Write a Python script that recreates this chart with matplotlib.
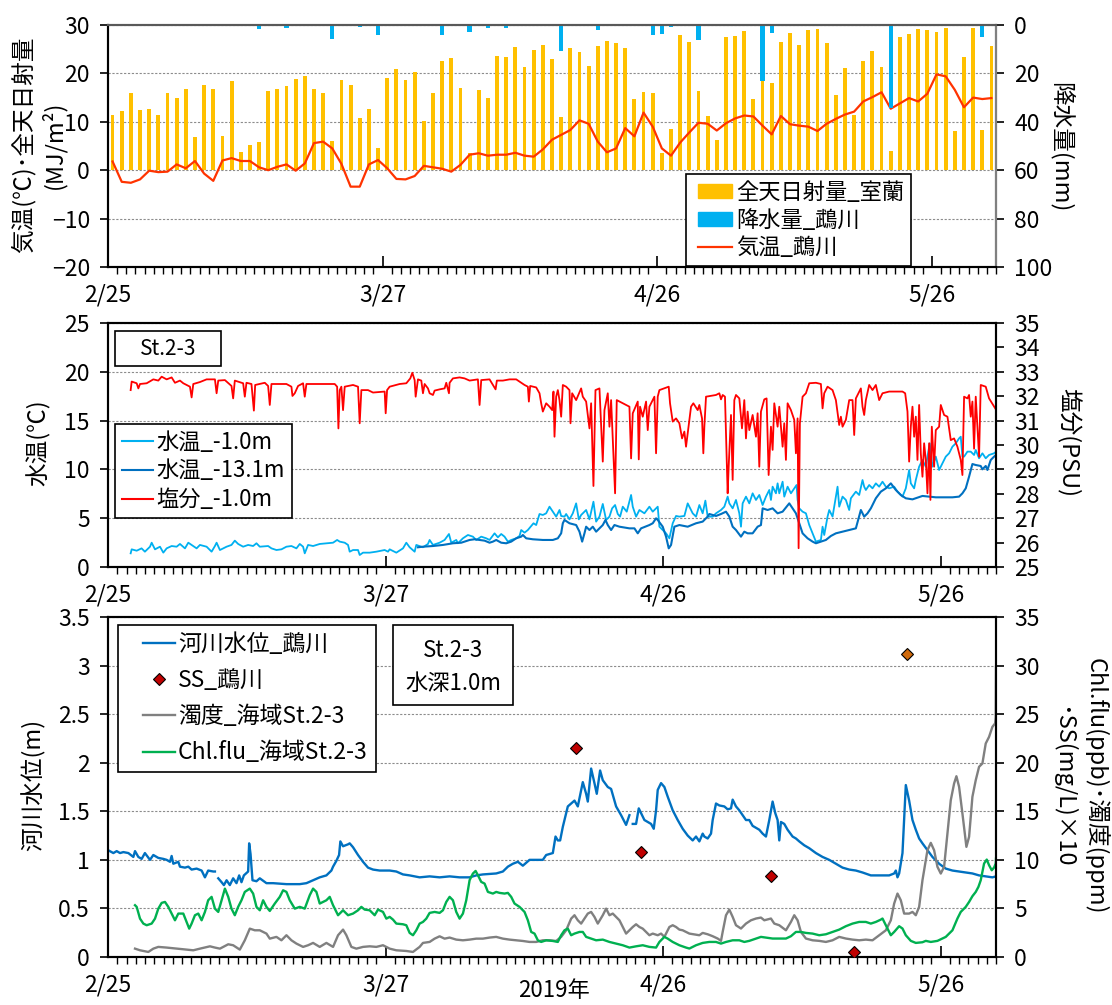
import numpy as np
import matplotlib

matplotlib.use("Agg")

import matplotlib.pyplot as plt  # noqa: E402
from matplotlib.legend_handler import HandlerLine2D, HandlerPatch  # noqa: E402
from matplotlib.lines import Line2D  # noqa: E402
from matplotlib.patches import Patch, Rectangle  # noqa: E402
from matplotlib.ticker import FixedLocator, MultipleLocator  # noqa: E402

plt.rcParams["font.family"] = ["Noto Sans CJK JP", "DejaVu Sans"]

FIG_W, FIG_H = 1112, 1005
TICK_FS = 16.5
LABEL_FS = 17

# ---------------------------------------------------------------- data
# x = days since 2/25 00:00
DATE_TICKS = [0, 30, 60, 90]
DATE_LABELS = ["2/25", "3/27", "4/26", "5/26"]

# daily values, 2/25 .. 6/1 (97 days)
solar_mj = [
    11.4, 12.2, 16.0, 12.5, 12.7, 11.5, 15.9, 14.9, 16.7, 6.8,
    17.6, 16.7, 7.1, 18.5, 3.8, 5.2, 5.9, 16.3, 16.8, 17.4,
    18.8, 19.4, 16.7, 16.0, 6.0, 18.7, 17.6, 10.8, 12.6, 4.6,
    19.0, 20.9, 18.7, 20.3, 10.1, 16.0, 22.5, 23.1, 17.0, 3.5,
    16.6, 15.0, 23.5, 23.3, 25.4, 21.3, 24.9, 25.8, 23.0, 10.9,
    25.3, 24.4, 21.6, 25.6, 26.6, 26.2, 25.3, 14.7, 16.2, 16.0,
    3.6, 8.5, 28.0, 26.5, 16.4, 11.2, 6.3, 27.5, 27.7, 28.7,
    14.7, 18.7, 18.0, 26.4, 28.4, 25.8, 28.9, 29.1, 26.3, 15.6,
    21.1, 11.4, 22.5, 24.6, 21.3, 3.9, 27.6, 28.2, 29.1, 29.0,
    28.6, 29.3, 8.0, 23.4, 29.4, 8.3, 25.6,
]
air_temp = [
    1.8, -2.4, -2.6, -1.9, -0.1, -0.4, -0.3, 1.2, 0.4, 1.9,
    -0.7, -2.2, 2.0, 2.5, 1.9, 1.9, 0.6, 0.0, 0.7, 1.2,
    -0.1, 1.4, 5.6, 5.9, 4.5, 1.3, -3.4, -3.4, 1.2, 2.1,
    0.4, -1.8, -1.9, -1.2, 0.9, 0.6, 0.3, -0.3, 1.1, 3.2,
    3.5, 3.0, 3.2, 3.2, 3.6, 3.0, 2.8, 4.3, 6.3, 7.3,
    8.3, 10.3, 9.6, 5.9, 3.7, 4.5, 8.7, 7.0, 11.9, 9.0,
    4.5, 3.0, 5.7, 7.8, 9.8, 9.6, 8.2, 9.7, 10.7, 11.3,
    11.1, 9.2, 7.4, 11.2, 9.5, 9.2, 9.0, 8.1, 9.6, 10.6,
    11.5, 12.1, 14.2, 15.1, 16.1, 12.7, 13.8, 14.9, 14.2, 15.8,
    19.8, 19.4, 16.6, 13.0, 15.0, 14.7, 14.9,
]
# rain days only: day index -> mm
rain_mm = {
    16: 1.8, 19: 1.1, 24: 5.6, 27: 0.7, 29: 4.1, 36: 4.1, 39: 2.8,
    41: 1.1, 43: 1.1, 49: 10.8, 53: 2.1, 59: 4.0, 60: 3.6, 61: 0.7,
    64: 6.2, 65: 0.4, 66: 0.4, 71: 23.3, 72: 3.2, 85: 34.4, 95: 5.1,
}

# (day, value) readings of the continuous records
wt_1m = [
    (2.45, 1.40), (2.56, 1.81), (3.10, 1.67), (3.63, 1.91), (3.99, 1.57),
    (4.54, 2.08), (4.72, 2.49), (5.08, 1.81), (5.62, 2.08), (5.98, 1.47),
    (6.34, 1.91), (6.88, 2.15), (7.42, 2.08), (7.78, 2.36), (8.32, 1.91),
    (8.68, 2.49), (9.04, 2.26), (9.58, 1.91), (9.94, 2.26), (10.66, 2.08),
    (11.20, 1.57), (11.56, 2.15), (11.74, 2.49), (12.10, 1.74), (12.82, 2.08),
    (13.35, 2.26), (13.71, 2.70), (14.07, 2.36), (14.61, 2.08), (15.15, 2.26),
    (15.69, 2.15), (16.05, 2.43), (16.41, 2.08), (17.31, 2.15), (17.67, 1.91),
    (18.21, 1.74), (18.75, 1.81), (19.29, 2.08), (19.83, 2.15), (20.37, 1.91),
    (20.73, 2.36), (21.09, 2.08), (21.27, 1.40), (21.63, 2.26), (22.17, 2.15),
    (22.89, 2.36), (23.61, 2.43), (24.33, 2.49), (24.77, 2.77), (25.05, 2.60),
    (25.59, 2.49), (25.95, 2.26), (26.13, 1.57), (26.49, 1.74), (27.03, 1.74),
    (27.21, 1.23), (27.57, 1.47), (28.29, 1.47), (29.01, 1.57), (29.91, 1.74),
    (30.27, 1.57), (30.45, 1.81), (31.17, 1.47), (31.89, 1.91), (32.25, 2.49),
    (32.61, 2.02), (33.15, 1.57), (33.33, 2.26), (34.05, 2.02), (34.59, 2.36),
    (34.77, 2.77), (35.13, 2.26), (35.85, 2.49), (36.39, 2.77), (36.86, 3.38),
    (37.11, 2.49), (37.65, 2.77), (37.83, 2.43), (38.37, 2.94), (38.91, 3.28),
    (39.45, 3.11), (39.81, 2.77), (40.35, 3.11), (40.89, 2.94), (41.25, 2.77),
    (41.79, 3.45), (42.15, 3.04), (42.51, 3.38), (42.87, 3.11), (43.23, 2.60),
    (43.59, 2.77), (44.13, 2.94), (44.49, 3.18), (44.67, 3.79), (45.03, 3.52),
    (45.39, 3.79), (45.75, 4.20), (46.00, 4.48), (46.29, 4.30), (46.65, 5.43),
    (47.01, 5.33), (47.37, 5.50), (47.73, 6.18), (48.09, 5.67), (48.45, 5.16),
    (48.81, 5.84), (48.99, 5.23), (49.35, 5.16), (49.53, 5.43), (49.89, 4.88),
    (50.25, 5.50), (50.61, 6.52), (50.90, 4.88), (51.15, 5.33), (51.69, 5.84),
    (52.05, 4.88), (52.48, 6.69), (52.77, 4.65), (53.13, 5.16), (53.49, 6.46),
    (53.85, 4.82), (54.21, 5.16), (54.50, 6.01), (54.82, 6.35), (55.11, 5.43),
    (55.36, 5.16), (55.65, 6.18), (56.08, 5.67), (56.55, 7.38), (56.73, 6.18),
    (57.09, 5.16), (57.45, 5.84), (57.99, 5.50), (58.53, 6.18), (58.89, 5.67),
    (59.43, 6.18), (59.61, 4.13), (59.97, 3.79), (60.33, 3.45), (60.69, 2.94),
    (61.05, 4.48), (61.41, 5.23), (61.77, 5.16), (62.31, 5.23), (62.67, 6.52),
    (63.21, 5.50), (63.57, 5.16), (63.93, 6.35), (64.29, 5.50), (64.58, 6.80),
    (64.83, 5.16), (65.37, 5.16), (65.73, 5.50), (66.27, 5.84), (66.63, 6.18),
    (66.99, 7.21), (67.17, 6.52), (67.53, 6.01), (67.89, 6.87), (68.25, 5.50),
    (68.43, 4.13), (68.61, 6.52), (68.97, 7.21), (69.33, 6.52), (69.69, 7.55),
    (70.05, 6.87), (70.41, 7.38), (70.77, 6.35), (71.13, 7.21), (71.49, 7.89),
    (71.67, 6.87), (71.85, 8.23), (72.21, 7.55), (72.39, 8.57), (72.57, 7.55),
    (72.93, 8.74), (73.11, 7.21), (73.47, 8.23), (73.83, 7.55), (74.19, 8.06),
    (74.44, 8.40), (74.55, 6.87), (74.73, 6.01), (75.09, 5.67), (75.45, 5.50),
    (75.81, 4.30), (76.17, 3.45), (76.53, 2.60), (77.07, 2.77), (77.25, 4.13),
    (77.43, 3.28), (77.79, 5.16), (77.97, 5.84), (78.33, 5.16), (78.69, 7.21),
    (78.87, 8.23), (79.05, 6.18), (79.41, 7.21), (79.77, 6.87), (80.13, 5.84),
    (80.31, 7.04), (80.85, 7.72), (81.21, 7.38), (81.57, 8.91), (81.75, 8.23),
    (81.93, 7.89), (82.29, 8.40), (82.65, 8.06), (83.01, 8.57), (83.37, 8.23),
    (83.73, 8.74), (84.09, 8.23), (84.45, 8.06), (84.99, 8.23), (85.35, 7.72),
    (85.89, 7.21), (86.25, 8.06), (86.61, 9.94), (86.79, 8.57), (87.15, 8.06),
    (87.33, 8.91), (87.69, 10.28), (88.05, 10.96), (88.41, 10.28), (88.59, 11.31),
    (88.84, 12.67), (89.13, 10.28), (89.49, 11.31), (89.85, 9.94), (90.21, 10.62),
    (90.57, 11.31), (90.93, 11.65), (91.29, 12.33), (91.65, 12.67), (92.01, 13.18),
    (92.19, 13.35), (92.37, 11.31), (92.55, 11.31), (92.91, 11.82), (93.27, 11.82),
    (93.63, 11.48), (93.81, 11.99), (94.17, 11.14), (94.53, 11.65), (94.89, 11.14),
    (95.25, 11.48), (95.79, 11.65), (96.00, 11.82),
]
wt_13m = [
    (33.51, 2.02), (34.05, 2.08), (35.13, 2.15), (36.21, 2.26), (37.29, 2.43),
    (38.19, 2.49), (39.09, 2.77), (39.63, 2.84), (40.17, 2.77), (40.71, 2.70),
    (41.25, 2.49), (41.61, 2.60), (41.97, 2.77), (42.51, 2.49), (43.05, 2.43),
    (43.59, 2.60), (44.13, 2.94), (44.67, 3.11), (44.85, 3.28), (45.21, 2.94),
    (45.93, 2.84), (47.01, 2.77), (48.09, 2.77), (48.63, 2.94), (48.99, 3.45),
    (49.17, 4.48), (49.35, 4.82), (49.89, 4.48), (50.61, 4.30), (50.97, 3.62),
    (51.26, 2.60), (51.51, 3.45), (51.69, 4.13), (52.05, 3.79), (52.41, 4.13),
    (52.77, 3.62), (53.13, 3.96), (53.49, 4.30), (53.78, 4.82), (54.03, 4.30),
    (54.39, 3.79), (54.75, 4.30), (55.29, 4.13), (56.37, 3.96), (56.91, 3.96),
    (57.27, 3.45), (57.63, 3.96), (58.53, 4.30), (58.89, 4.48), (59.25, 4.99),
    (59.43, 4.82), (59.97, 4.13), (60.33, 3.11), (60.62, 1.91), (60.87, 2.26),
    (61.23, 4.13), (61.77, 4.30), (62.67, 4.13), (63.57, 4.48), (64.29, 4.65),
    (64.83, 5.16), (65.01, 5.43), (65.73, 5.23), (66.27, 5.43), (66.81, 5.67),
    (67.17, 5.16), (67.53, 4.13), (67.89, 3.79), (68.43, 3.11), (68.79, 3.62),
    (69.15, 3.45), (69.69, 3.45), (70.23, 4.13), (70.59, 4.30), (70.77, 6.01),
    (71.31, 5.84), (71.85, 6.01), (72.39, 5.50), (72.93, 5.67), (73.65, 6.52),
    (74.01, 6.01), (74.37, 5.50), (74.73, 4.48), (75.09, 3.45), (75.63, 2.94),
    (76.17, 2.60), (76.53, 2.43), (77.07, 2.60), (77.61, 2.77), (78.15, 3.18),
    (78.69, 3.45), (79.41, 3.62), (80.13, 3.79), (80.85, 3.96), (81.39, 5.84),
    (81.75, 5.16), (82.11, 5.50), (82.47, 6.01), (83.01, 7.04), (83.55, 7.72),
    (84.09, 8.06), (84.63, 8.57), (85.17, 7.89), (85.71, 7.38), (86.25, 7.04),
    (86.97, 6.93), (88.05, 7.28), (89.49, 7.14), (91.29, 7.14), (92.01, 7.21),
    (92.37, 7.55), (92.73, 8.06), (93.09, 9.26), (93.45, 10.55), (93.81, 10.45),
    (94.35, 10.35), (94.53, 10.01), (94.89, 10.35), (95.07, 9.94), (95.43, 10.96),
    (95.79, 11.31), (96.00, 11.48),
]
salinity = [
    (2.45, 32.25), (2.56, 32.60), (3.10, 32.53), (3.28, 32.32), (3.46, 32.50),
    (4.18, 32.53), (4.90, 32.69), (5.44, 32.64), (5.80, 32.80), (6.34, 32.69),
    (6.88, 32.77), (7.24, 32.55), (7.78, 32.64), (8.14, 32.53), (8.86, 32.39),
    (9.04, 31.95), (9.22, 32.50), (9.94, 32.58), (10.66, 32.69), (11.56, 32.69),
    (11.74, 32.12), (11.92, 32.64), (12.64, 32.66), (13.35, 32.42), (13.53, 31.91),
    (13.71, 32.64), (14.61, 32.53), (14.79, 31.98), (14.97, 32.55), (15.51, 32.50),
    (15.77, 31.41), (15.91, 32.46), (16.95, 32.55), (17.31, 32.42), (17.49, 31.64),
    (17.67, 32.50), (19.29, 32.50), (19.83, 32.39), (19.94, 32.01), (20.19, 32.12),
    (20.55, 32.42), (21.09, 32.53), (21.27, 31.98), (21.45, 32.50), (23.25, 32.50),
    (24.51, 32.50), (24.77, 32.39), (24.91, 30.68), (25.05, 32.25), (25.23, 32.39),
    (25.41, 31.43), (25.59, 32.39), (26.49, 32.46), (27.03, 32.39), (27.21, 30.89),
    (27.39, 32.25), (28.11, 32.25), (28.65, 32.15), (29.91, 32.19), (30.02, 31.30),
    (30.17, 32.25), (30.45, 32.39), (31.53, 32.50), (32.25, 32.53), (32.68, 32.73),
    (32.90, 32.96), (33.15, 32.66), (33.26, 31.98), (33.51, 32.69), (33.87, 32.64),
    (34.05, 32.12), (34.23, 32.50), (34.59, 32.32), (34.77, 32.12), (35.13, 32.05),
    (35.31, 32.23), (35.85, 32.28), (36.39, 32.32), (36.57, 32.55), (36.86, 32.12),
    (36.93, 32.55), (37.29, 32.73), (38.01, 32.77), (38.55, 32.73), (39.09, 32.64),
    (39.99, 32.69), (40.17, 31.64), (40.35, 32.66), (41.25, 32.69), (41.90, 32.28),
    (42.04, 32.64), (42.69, 32.64), (43.41, 32.69), (44.13, 32.69), (44.67, 32.55),
    (45.03, 32.46), (45.39, 32.39), (45.50, 31.78), (45.64, 32.42), (46.29, 32.36),
    (46.65, 32.12), (46.83, 31.71), (47.01, 31.37), (47.37, 31.71), (47.73, 31.57),
    (48.02, 31.43), (48.16, 32.19), (48.27, 30.34), (48.45, 31.98), (48.63, 32.25),
    (48.81, 31.84), (48.99, 31.16), (49.17, 32.46), (49.53, 32.39), (49.89, 32.25),
    (50.00, 30.89), (50.18, 32.12), (50.61, 31.84), (51.15, 32.32), (51.33, 31.98),
    (51.69, 31.78), (52.05, 30.68), (52.23, 31.71), (52.48, 28.32), (52.70, 32.25),
    (53.13, 32.32), (53.49, 29.32), (53.67, 31.43), (54.03, 32.12), (54.21, 30.75),
    (54.39, 31.84), (54.82, 28.02), (55.00, 31.84), (55.65, 31.71), (56.37, 31.57),
    (56.55, 29.45), (56.73, 31.30), (57.27, 31.78), (57.38, 29.41), (57.52, 31.57),
    (57.81, 31.16), (58.17, 31.78), (58.35, 30.61), (58.53, 31.57), (59.07, 31.98),
    (59.25, 29.66), (59.43, 31.98), (59.61, 32.25), (60.62, 32.39), (60.76, 31.71),
    (61.05, 30.96), (61.41, 31.09), (61.77, 30.89), (62.06, 30.27), (62.31, 30.55),
    (62.49, 29.93), (62.67, 30.48), (63.03, 31.57), (63.28, 31.71), (63.75, 31.43),
    (63.93, 31.64), (64.22, 31.09), (64.36, 29.66), (64.47, 30.75), (64.65, 31.98),
    (65.73, 32.05), (66.09, 32.12), (66.27, 31.87), (66.45, 32.05), (66.70, 31.98),
    (66.88, 29.52), (66.99, 28.02), (67.10, 29.11), (67.35, 31.23), (67.53, 28.57),
    (67.71, 31.84), (67.89, 32.05), (68.25, 31.91), (68.54, 30.68), (68.79, 31.84),
    (68.97, 30.27), (69.15, 31.37), (69.33, 30.61), (69.69, 31.23), (70.05, 30.34),
    (70.23, 31.30), (70.41, 29.11), (70.59, 31.37), (70.95, 31.87), (71.20, 31.91),
    (71.42, 28.77), (71.67, 30.75), (71.85, 29.80), (72.03, 31.71), (72.39, 30.75),
    (72.57, 31.57), (72.93, 29.93), (73.11, 30.89), (73.29, 29.39), (73.47, 31.71),
    (73.83, 31.43), (74.19, 31.03), (74.37, 29.66), (74.55, 31.09), (74.66, 25.77),
    (74.80, 30.89), (75.09, 31.98), (75.45, 32.12), (75.81, 32.53), (76.53, 32.55),
    (77.07, 32.50), (77.25, 31.50), (77.43, 32.12), (77.79, 32.39), (78.33, 32.25),
    (78.69, 31.84), (79.05, 30.82), (79.23, 31.16), (79.41, 30.75), (79.77, 31.03),
    (80.13, 31.84), (80.49, 31.84), (80.67, 30.41), (80.85, 31.91), (81.39, 32.32),
    (81.57, 31.57), (81.75, 31.23), (81.93, 31.84), (82.29, 32.46), (82.65, 32.25),
    (83.01, 32.46), (83.37, 31.84), (83.73, 32.12), (84.45, 32.19), (85.89, 32.19),
    (86.18, 32.12), (86.43, 31.37), (86.61, 29.32), (86.79, 30.75), (86.97, 31.57),
    (87.15, 30.34), (87.33, 31.16), (87.51, 29.39), (87.69, 31.64), (87.87, 29.66),
    (88.05, 28.70), (88.23, 30.07), (88.41, 29.39), (88.59, 28.02), (88.77, 30.07),
    (88.91, 27.75), (89.06, 30.75), (89.31, 29.11), (89.49, 30.61), (89.85, 30.75),
    (90.03, 31.64), (90.39, 31.23), (90.75, 31.16), (91.11, 30.20), (91.47, 30.27),
    (91.83, 29.93), (92.19, 29.39), (92.37, 28.77), (92.55, 31.98), (92.91, 31.91),
    (93.09, 32.05), (93.27, 31.16), (93.45, 31.78), (93.63, 29.85), (93.81, 31.98),
    (94.17, 29.52), (94.35, 32.46), (94.89, 32.39), (95.25, 31.91), (96.00, 31.45),
]
# river level (m); None marks a gap in the record
river_level = [
    (0.00, 1.10), (0.58, 1.07), (0.94, 1.09), (1.30, 1.07), (1.66, 1.08),
    (2.20, 1.07), (2.74, 1.03), (2.92, 1.09), (3.28, 1.03), (3.64, 1.01),
    (3.99, 1.07), (4.54, 1.00), (4.90, 1.05), (5.44, 1.02), (5.98, 1.01),
    (6.34, 1.00), (6.70, 0.98), (6.88, 1.04), (7.06, 0.96), (7.60, 0.98),
    (7.78, 0.93), (8.32, 0.92), (8.68, 0.93), (9.04, 0.90), (9.58, 0.91),
    (10.12, 0.89), (10.48, 0.82), (10.83, 0.89), (11.38, 0.88), (11.56, 0.88),
    (11.70, None), (11.92, 0.81), (12.28, 0.77), (12.53, 0.74), (12.82, 0.79),
    (13.17, 0.74), (13.53, 0.81), (13.89, 0.76), (14.18, 0.84), (14.43, 0.77),
    (14.69, 0.84), (15.15, 0.88), (15.26, 1.17), (15.41, 1.06), (15.62, 0.79),
    (16.05, 0.78), (16.41, 0.81), (17.13, 0.76), (17.85, 0.76), (19.29, 0.75),
    (20.73, 0.75), (21.45, 0.76), (22.17, 0.79), (22.89, 0.82), (23.61, 0.84),
    (24.15, 0.89), (24.33, 0.93), (24.69, 0.99), (24.98, 1.05), (25.12, 1.19),
    (25.41, 1.14), (25.95, 1.16), (26.13, 1.17), (26.49, 1.13), (27.03, 1.05),
    (27.57, 0.98), (28.11, 0.92), (28.65, 0.90), (29.37, 0.89), (30.09, 0.89),
    (30.45, 0.89), (31.17, 0.88), (31.89, 0.85), (32.61, 0.84), (33.69, 0.82),
    (34.77, 0.83), (35.85, 0.82), (36.93, 0.83), (38.01, 0.82), (39.09, 0.82),
    (39.81, 0.84), (40.53, 0.85), (41.97, 0.86), (42.69, 0.88), (43.23, 0.93),
    (43.77, 0.96), (44.31, 0.98), (44.85, 0.94), (45.21, 0.97), (45.57, 1.00),
    (47.01, 1.00), (47.37, 1.05), (48.09, 1.07), (48.38, 1.24), (48.63, 1.20),
    (48.88, 1.20), (49.17, 1.34), (49.71, 1.55), (50.07, 1.58), (50.43, 1.61),
    (50.79, 1.55), (51.33, 1.80), (51.69, 1.68), (51.87, 1.60), (52.23, 1.94),
    (52.59, 1.79), (52.84, 1.68), (53.20, 1.92), (53.49, 1.82), (54.03, 1.75),
    (54.39, 1.73), (54.93, 1.55), (55.47, 1.46), (56.01, 1.36), (56.37, 1.46),
    (56.55, None), (56.73, 1.37), (57.09, 1.37), (57.38, 1.53), (57.63, 1.48),
    (57.99, 1.41), (58.71, 1.37), (59.00, 1.32), (59.25, 1.51), (59.43, 1.72),
    (59.79, 1.79), (60.15, 1.75), (60.51, 1.65), (61.05, 1.51), (61.59, 1.41),
    (62.13, 1.32), (62.67, 1.25), (63.21, 1.20), (63.57, 1.24), (63.93, 1.19),
    (64.29, 1.27), (64.47, 1.24), (64.83, 1.22), (65.19, 1.27), (65.37, 1.41),
    (65.73, 1.58), (66.09, 1.56), (66.63, 1.55), (66.99, 1.52), (67.35, 1.53),
    (67.53, 1.62), (67.89, 1.55), (68.25, 1.51), (68.61, 1.46), (68.97, 1.41),
    (69.33, 1.41), (69.69, 1.35), (70.05, 1.33), (70.41, 1.31), (70.77, 1.27),
    (71.13, 1.24), (71.49, 1.41), (71.85, 1.60), (72.14, 1.48), (72.39, 1.41),
    (72.57, 1.20), (72.75, 1.39), (73.11, 1.37), (73.47, 1.31), (74.01, 1.24),
    (74.37, 1.22), (74.73, 1.19), (75.27, 1.15), (75.81, 1.12), (76.53, 1.07),
    (77.25, 1.03), (77.97, 1.00), (78.69, 0.96), (79.41, 0.92), (80.13, 0.90),
    (80.85, 0.89), (81.57, 0.87), (82.47, 0.84), (84.45, 0.84), (84.99, 0.86),
    (85.17, 0.89), (85.35, 0.82), (85.53, 0.86), (85.89, 1.07), (86.25, 1.77),
    (86.61, 1.61), (86.97, 1.41), (87.33, 1.31), (87.69, 1.22), (88.05, 1.17),
    (88.59, 1.10), (89.13, 1.03), (89.85, 0.96), (90.57, 0.91), (91.29, 0.89),
    (92.01, 0.88), (92.73, 0.87), (93.45, 0.86), (94.17, 0.84), (94.89, 0.83),
    (95.61, 0.82), (96.00, 0.83),
]
turbidity = [
    (2.92, 0.86), (3.46, 0.69), (4.36, 0.52), (4.90, 0.86), (5.44, 1.04),
    (6.34, 0.97), (7.42, 0.86), (8.50, 0.76), (9.22, 0.69), (9.94, 0.86),
    (11.02, 1.10), (11.56, 0.97), (12.10, 0.86), (13.00, 1.31), (13.53, 1.21),
    (14.25, 0.76), (14.79, 1.72), (15.33, 2.92), (15.87, 2.75), (16.41, 2.75),
    (17.13, 2.41), (17.49, 1.89), (18.21, 2.07), (18.75, 1.72), (19.29, 2.24),
    (19.83, 1.72), (20.37, 1.38), (21.09, 1.04), (21.63, 1.21), (22.17, 1.45),
    (22.89, 1.04), (23.61, 1.45), (24.33, 1.04), (24.87, 2.24), (25.41, 2.82),
    (25.77, 2.24), (26.31, 1.04), (26.85, 0.86), (27.57, 1.04), (28.29, 1.10),
    (29.01, 1.04), (29.73, 1.21), (30.45, 0.86), (31.17, 0.69), (32.25, 0.62),
    (32.97, 0.52), (33.69, 1.04), (34.05, 1.45), (34.77, 1.55), (35.31, 1.89),
    (35.85, 2.13), (36.39, 1.89), (36.93, 2.00), (37.65, 1.79), (38.37, 1.72),
    (39.09, 1.79), (39.81, 1.89), (40.53, 1.89), (41.25, 2.00), (41.97, 2.07),
    (42.69, 1.89), (43.41, 1.79), (44.13, 1.72), (44.85, 1.65), (45.57, 1.55),
    (46.29, 1.55), (47.01, 1.72), (47.73, 1.72), (48.45, 1.65), (48.99, 2.07),
    (49.53, 2.75), (50.07, 3.95), (50.43, 4.30), (50.79, 3.78), (51.15, 3.44),
    (51.51, 3.95), (51.87, 4.47), (52.23, 4.64), (52.59, 4.13), (52.95, 3.44),
    (53.49, 4.30), (53.85, 4.98), (54.21, 4.30), (54.57, 4.47), (54.93, 4.13),
    (55.29, 3.78), (55.65, 3.09), (56.01, 2.41), (56.37, 2.75), (56.73, 3.09),
    (57.09, 3.37), (57.45, 3.09), (57.81, 2.92), (58.17, 2.58), (58.53, 2.24),
    (58.89, 2.41), (59.43, 2.24), (59.79, 2.41), (60.15, 2.07), (60.69, 3.09),
    (61.05, 3.27), (61.41, 3.09), (61.77, 2.82), (62.13, 2.75), (62.49, 2.58),
    (62.85, 2.41), (63.93, 2.24), (64.29, 2.48), (64.83, 2.34), (65.37, 2.14),
    (65.91, 1.90), (66.27, 1.66), (66.45, 2.58), (66.81, 4.30), (67.17, 4.88),
    (67.53, 4.13), (67.89, 3.27), (68.43, 2.93), (68.97, 3.44), (69.51, 3.78),
    (70.05, 3.96), (70.59, 4.06), (70.95, 3.78), (71.67, 3.96), (72.03, 3.44),
    (72.57, 3.27), (73.29, 2.75), (73.83, 3.61), (74.19, 4.30), (74.55, 3.78),
    (74.91, 2.58), (75.45, 1.90), (76.17, 1.72), (76.89, 1.66), (77.61, 1.55),
    (78.33, 1.72), (79.05, 2.07), (79.77, 1.90), (80.49, 1.79), (81.21, 1.72),
    (81.93, 1.79), (82.65, 1.72), (83.37, 2.24), (84.09, 2.75), (84.63, 3.78),
    (84.99, 5.50), (85.35, 6.53), (85.71, 5.84), (86.07, 4.47), (86.61, 4.47),
    (86.97, 4.64), (87.33, 4.30), (87.69, 5.16), (88.05, 7.90), (88.59, 10.99),
    (88.95, 11.75), (89.31, 10.99), (89.67, 9.28), (90.03, 8.59), (90.39, 9.28),
    (90.75, 12.71), (91.11, 16.14), (91.47, 17.86), (91.72, 18.61), (92.01, 17.52),
    (92.37, 14.77), (92.80, 11.34), (93.09, 12.37), (93.45, 16.49), (93.81, 18.20),
    (94.17, 19.58), (94.53, 19.92), (94.89, 21.98), (95.25, 22.66), (95.61, 23.69),
    (95.90, 24.04), (95.97, 24.70), (96.00, 29.90),
]
chl_flu = [
    (2.92, 5.33), (3.10, 5.16), (3.46, 3.95), (3.82, 3.44), (4.18, 3.27),
    (4.72, 3.44), (5.08, 3.95), (5.44, 4.98), (5.80, 5.57), (6.16, 5.67),
    (6.52, 5.16), (6.88, 4.47), (7.24, 3.78), (7.60, 4.47), (8.14, 4.47),
    (8.42, 3.78), (8.78, 2.92), (9.04, 3.44), (9.40, 4.30), (9.76, 4.47),
    (10.12, 3.78), (10.48, 4.64), (10.83, 5.84), (11.20, 6.19), (11.56, 4.98),
    (11.92, 4.64), (12.28, 5.84), (12.64, 7.04), (13.00, 6.19), (13.35, 4.98),
    (13.71, 4.30), (14.07, 5.16), (14.43, 5.84), (14.79, 6.70), (15.33, 7.04),
    (15.69, 6.53), (16.05, 5.16), (16.41, 4.81), (16.77, 5.84), (17.13, 5.16),
    (17.49, 4.74), (18.03, 5.50), (18.57, 6.19), (18.93, 6.87), (19.29, 6.70),
    (19.65, 5.84), (20.19, 4.98), (20.73, 5.16), (21.27, 4.98), (21.81, 6.36),
    (22.17, 7.04), (22.53, 6.70), (22.89, 5.50), (23.25, 5.67), (23.61, 5.84),
    (23.97, 6.19), (24.33, 5.33), (24.87, 4.30), (25.41, 4.81), (25.95, 4.30),
    (26.49, 4.47), (27.03, 4.81), (27.39, 5.16), (27.75, 4.88), (28.29, 4.81),
    (28.83, 4.30), (29.19, 4.88), (29.73, 4.64), (30.09, 3.95), (30.45, 4.13),
    (30.81, 3.85), (31.17, 3.44), (31.89, 3.37), (32.25, 3.27), (32.61, 2.48),
    (32.97, 2.24), (33.33, 2.75), (33.69, 3.44), (34.05, 3.61), (34.41, 3.95),
    (34.77, 4.54), (35.31, 4.64), (35.85, 4.54), (36.21, 4.81), (36.57, 5.67),
    (36.93, 6.19), (37.29, 5.84), (37.65, 4.64), (38.01, 3.95), (38.37, 4.47),
    (38.73, 5.84), (39.09, 7.90), (39.45, 8.59), (39.74, 8.86), (39.99, 8.42),
    (40.35, 7.73), (40.71, 7.56), (41.07, 6.70), (41.61, 6.53), (41.97, 6.70),
    (42.33, 6.60), (42.87, 6.53), (43.23, 6.60), (43.59, 6.19), (43.95, 5.50),
    (44.49, 5.16), (45.03, 4.64), (45.39, 3.78), (45.75, 2.58), (46.11, 2.41),
    (46.47, 1.72), (46.83, 1.55), (47.37, 1.72), (48.09, 1.65), (48.63, 1.55),
    (48.99, 2.24), (49.35, 2.75), (49.71, 2.92), (50.07, 2.24), (50.43, 2.41),
    (50.97, 2.58), (51.33, 2.58), (51.69, 2.07), (52.23, 1.89), (52.77, 1.72),
    (53.49, 1.79), (54.21, 1.55), (54.93, 1.38), (55.65, 1.21), (56.37, 0.97),
    (57.09, 1.10), (57.81, 1.21), (58.53, 1.04), (59.25, 0.97), (59.61, 1.55),
    (60.15, 2.07), (60.51, 1.89), (61.05, 1.55), (61.77, 1.21), (62.49, 0.97),
    (62.85, 0.87), (63.57, 1.21), (64.29, 1.45), (65.01, 1.55), (65.73, 1.55),
    (66.27, 1.38), (66.81, 1.55), (67.53, 1.72), (68.25, 1.72), (68.79, 1.55),
    (69.33, 1.66), (70.05, 1.90), (70.59, 2.07), (71.13, 2.00), (71.85, 1.90),
    (73.29, 1.90), (73.83, 2.14), (74.37, 2.58), (74.91, 2.58), (75.45, 2.48),
    (76.17, 2.41), (76.89, 2.24), (77.61, 2.34), (78.33, 2.58), (79.05, 2.82),
    (79.77, 3.17), (80.49, 3.44), (81.21, 3.61), (81.93, 3.61), (82.47, 3.44),
    (83.01, 3.61), (83.55, 3.85), (83.73, 3.96), (84.09, 3.27), (84.63, 2.24),
    (84.99, 2.58), (85.53, 3.17), (85.89, 2.93), (86.25, 2.24), (86.79, 1.66),
    (87.33, 1.45), (88.05, 1.52), (88.41, 1.66), (88.95, 1.55), (89.67, 1.66),
    (90.57, 2.07), (91.29, 2.75), (91.83, 3.96), (92.19, 4.64), (92.73, 5.16),
    (93.09, 5.67), (93.45, 6.26), (93.81, 6.70), (94.10, 7.22), (94.35, 7.90),
    (94.71, 9.62), (95.00, 10.03), (95.25, 9.45), (95.54, 8.93), (95.79, 9.21),
    (95.97, 9.62), (96.00, 10.13),
]
# SS samples (mg/L x 10) and the one flagged sample
ss_day = [50.6, 57.6, 71.65, 80.6]
ss_val = [21.5, 10.8, 8.3, 0.5]
ss_flag_day = [86.4]
ss_flag_val = [31.2]


def unzip(points):
    days = np.array([p[0] for p in points], dtype=float)
    vals = np.array([np.nan if p[1] is None else p[1] for p in points], dtype=float)
    return days, vals


def px_box(left, top, right, bottom):
    """axes rect in figure fractions from pixel edges"""
    return [left / FIG_W, 1 - bottom / FIG_H, (right - left) / FIG_W, (bottom - top) / FIG_H]


def fx(x):
    return x / FIG_W


def fy(y):
    return 1 - y / FIG_H


def style_axes(ax, axr, xmax):
    ax.set_xlim(0, xmax)
    ax.xaxis.set_major_locator(FixedLocator(DATE_TICKS))
    ax.set_xticklabels(DATE_LABELS)
    ax.xaxis.set_minor_locator(MultipleLocator(1))
    ax.tick_params(axis="x", which="major", direction="in", length=8, width=1.2,
                   labelsize=TICK_FS, pad=12)
    ax.tick_params(axis="x", which="minor", direction="out", length=5, width=1.0)
    for a in (ax, axr):
        a.tick_params(axis="y", direction="out", length=6, width=1.2,
                      labelsize=TICK_FS, pad=7)
        for sp in a.spines.values():
            sp.set_linewidth(1.5)
    ax.yaxis.grid(True, linestyle=(0, (2, 1.5)), color="#8c8c8c", linewidth=0.8)
    ax.set_axisbelow(True)


def add_box_text(fig, left, top, right, bottom, lines, line_ys, size):
    fig.add_artist(Rectangle((fx(left), fy(bottom)), fx(right) - fx(left),
                             fy(top) - fy(bottom), transform=fig.transFigure,
                             facecolor="white", edgecolor="black", linewidth=1.2,
                             zorder=10))
    for text, y in zip(lines, line_ys):
        fig.text(fx((left + right) / 2), fy(y), text, ha="center", va="center",
                 fontsize=size, zorder=11)


def make_legend(ax, handles, labels, left, top, size, spacing, pad, hlen,
                xpad=0.0, textpad=0.2):
    hmap = {Line2D: HandlerLine2D(xpad=xpad), Patch: HandlerPatch(xpad=xpad)}
    leg = ax.legend(handles, labels, loc="upper left",
                    bbox_to_anchor=(fx(left), fy(top)),
                    bbox_transform=ax.figure.transFigure, fontsize=size,
                    handlelength=hlen, handleheight=0.6, handletextpad=textpad,
                    labelspacing=spacing, borderpad=pad, borderaxespad=0,
                    fancybox=False, handler_map=hmap)
    frame = leg.get_frame()
    frame.set_edgecolor("black")
    frame.set_linewidth(1.2)
    frame.set_alpha(1.0)
    return leg


fig = plt.figure(figsize=(FIG_W / 100, FIG_H / 100), dpi=100)

# ------------------------------------------------------------ panel 1
ax1 = fig.add_axes(px_box(108, 25, 996, 267))
ax1r = ax1.twinx()
bar_x = np.arange(len(solar_mj)) + 0.5
rain = np.zeros(len(solar_mj))
for day, mm in rain_mm.items():
    rain[day] = mm

ax1.bar(bar_x, solar_mj, width=0.42, color="#FFC000", zorder=2)
ax1.plot(bar_x, air_temp, color="#FF3300", linewidth=1.6, zorder=3)
ax1r.bar(bar_x, rain, width=0.48, color="#00B0F0")
ax1.set_ylim(-20, 30)
ax1.set_yticks(np.arange(-20, 31, 10))
ax1r.set_ylim(100, 0)
ax1r.set_yticks(np.arange(0, 101, 20))
style_axes(ax1, ax1r, len(solar_mj))
ax1r.spines["right"].set_color("#808080")
ax1r.spines["top"].set_color("#595959")
ax1.spines["top"].set_color("#595959")

make_legend(
    ax1r,
    [Patch(color="#FFC000"), Patch(color="#00B0F0"), Line2D([], [], color="#FF3300", lw=1.6)],
    ["全天日射量_室蘭", "降水量_鵡川", "気温_鵡川"],
    686, 174, size=16, spacing=0.22, pad=0.3, hlen=1.75, xpad=0.25, textpad=0.2,
)

fig.text(fx(23), fy(145), "気温(℃)･全天日射量", rotation=90, ha="center", va="center",
         fontsize=LABEL_FS)
fig.text(fx(54), fy(145), "(MJ/m²)", rotation=90, ha="center", va="center",
         fontsize=LABEL_FS)
fig.text(fx(1061), fy(147), "降水量(mm)", rotation=-90, ha="center", va="center",
         fontsize=LABEL_FS)

# ------------------------------------------------------------ panel 2
ax2 = fig.add_axes(px_box(108, 323, 996, 567))
ax2r = ax2.twinx()
d, v = unzip(wt_1m)
ax2.plot(d, v, color="#00B0F0", linewidth=1.3)
d, v = unzip(wt_13m)
ax2.plot(d, v, color="#0070C0", linewidth=1.5)
d, v = unzip(salinity)
ax2r.plot(d, v, color="#FF0000", linewidth=1.3)
ax2.set_ylim(0, 25)
ax2.set_yticks(np.arange(0, 26, 5))
ax2r.set_ylim(25, 35)
ax2r.set_yticks(np.arange(25, 36, 1))
style_axes(ax2, ax2r, 96)

make_legend(
    ax2r,
    [Line2D([], [], color="#00B0F0", lw=1.5), Line2D([], [], color="#0070C0", lw=1.5),
     Line2D([], [], color="#FF0000", lw=1.5)],
    ["水温_-1.0m", "水温_-13.1m", "塩分_-1.0m"],
    115, 424, size=16, spacing=0.26, pad=0.3, hlen=1.4, textpad=0.18,
)
add_box_text(fig, 115, 331, 221, 366, ["St.2-3"], [349], 15)

fig.text(fx(39), fy(443), "水温(℃)", rotation=90, ha="center", va="center",
         fontsize=LABEL_FS)
fig.text(fx(1068), fy(443), "塩分(PSU)", rotation=-90, ha="center", va="center",
         fontsize=LABEL_FS)

# ------------------------------------------------------------ panel 3
ax3 = fig.add_axes(px_box(108, 617, 996, 957))
ax3r = ax3.twinx()
d, v = unzip(river_level)
ax3.plot(d, v, color="#0070C0", linewidth=1.7)
d, v = unzip(turbidity)
ax3r.plot(d, v, color="#808080", linewidth=1.7)
d, v = unzip(chl_flu)
ax3r.plot(d, v, color="#00B050", linewidth=1.7)
ax3r.plot(ss_day, ss_val, linestyle="none", marker="D", markersize=6.5,
          markerfacecolor="#C00000", markeredgecolor="black", markeredgewidth=0.8,
          zorder=5)
ax3r.plot(ss_flag_day, ss_flag_val, linestyle="none", marker="D", markersize=6.5,
          markerfacecolor="#D06A0C", markeredgecolor="black", markeredgewidth=0.8,
          zorder=5)
ax3.set_ylim(0, 3.5)
ax3.set_yticks(np.arange(0, 3.51, 0.5))
ax3.set_yticklabels(["0", "0.5", "1", "1.5", "2", "2.5", "3", "3.5"])
ax3r.set_ylim(0, 35)
ax3r.set_yticks(np.arange(0, 36, 5))
style_axes(ax3, ax3r, 96)

make_legend(
    ax3r,
    [Line2D([], [], color="#0070C0", lw=1.7),
     Line2D([], [], linestyle="none", marker="D", markersize=6.5,
            markerfacecolor="#C00000", markeredgecolor="black", markeredgewidth=0.8),
     Line2D([], [], color="#808080", lw=1.7), Line2D([], [], color="#00B050", lw=1.7)],
    ["河川水位_鵡川", "SS_鵡川", "濁度_海域St.2-3", "Chl.flu_海域St.2-3"],
    118, 625, size=16.5, spacing=0.57, pad=0.35, hlen=2.15, xpad=0.75, textpad=0.12,
)
add_box_text(fig, 393, 625, 513, 705, ["St.2-3", "水深1.0m"], [650, 683], 16)

fig.text(fx(33), fy(785), "河川水位(m)", rotation=90, ha="center", va="center",
         fontsize=LABEL_FS)
fig.text(fx(1096), fy(786), "Chl.flu(ppb)･濁度(ppm)", rotation=-90, ha="center",
         va="center", fontsize=LABEL_FS)
fig.text(fx(1062), fy(787), "･SS(mg/L)×10", rotation=-90, ha="center", va="center",
         fontsize=LABEL_FS)
fig.text(fx(554), fy(990), "2019年", ha="center", va="center", fontsize=16)

fig.savefig("out.png", dpi=100)
